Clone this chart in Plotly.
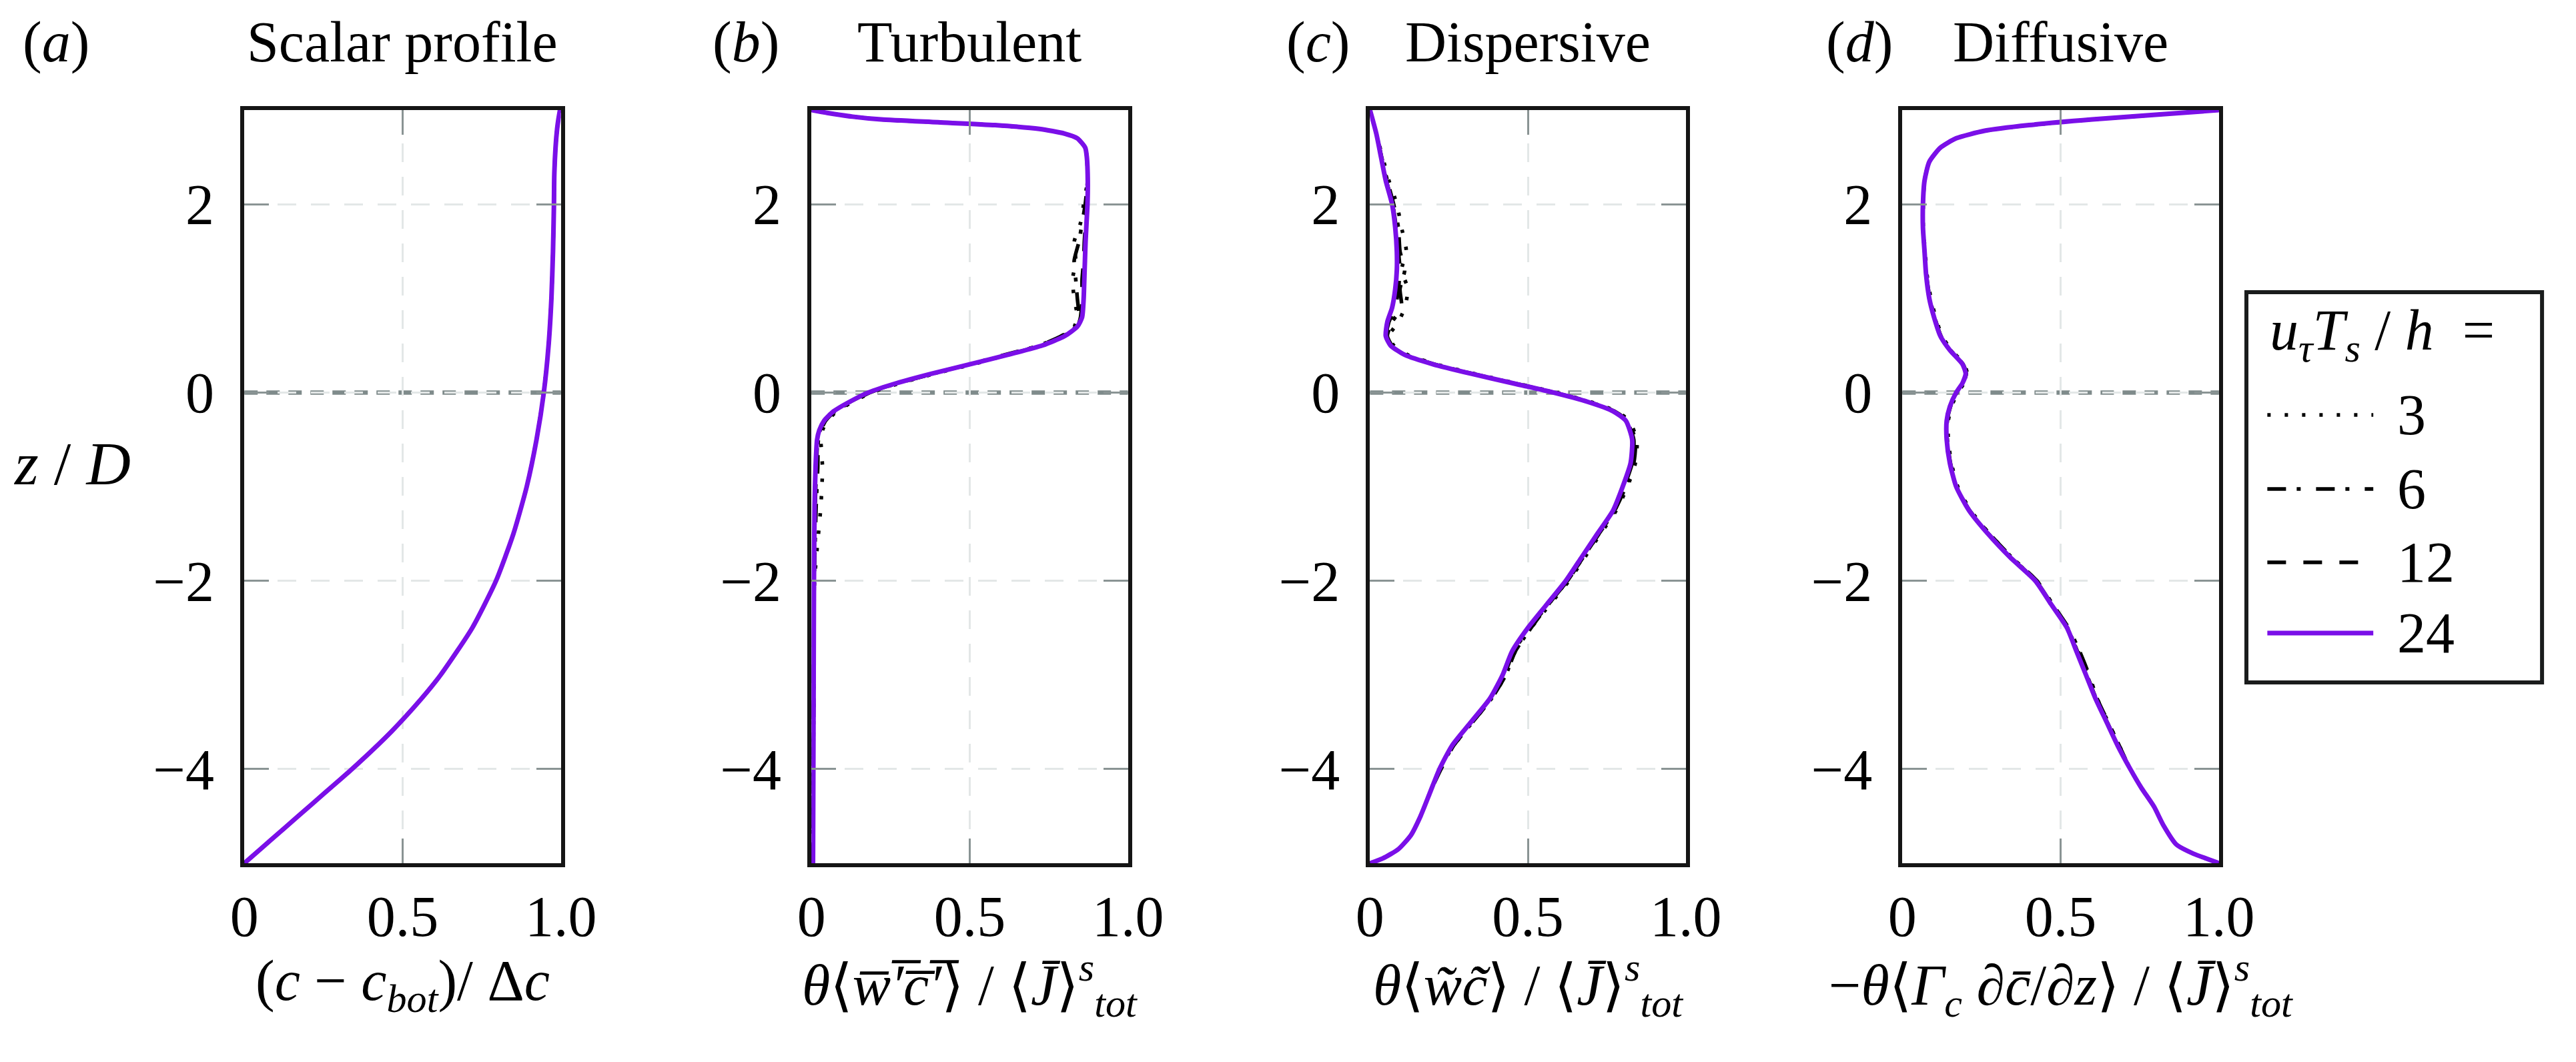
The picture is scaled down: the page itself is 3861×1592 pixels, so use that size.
import plotly.graph_objects as go

# ---- data ----
# (a) scalar profile
Z_A = [-5, -4.75, -4.5, -4.25, -4, -3.6, -3.25, -3, -2.5, -2, -1.5, -1, -0.5, 0, 0.5, 1, 1.5, 2, 2.3, 2.6, 2.8, 2.9, 3.0]
A_3 = [0.0, 0.085, 0.17, 0.255, 0.34, 0.465, 0.56, 0.62, 0.72, 0.795, 0.85, 0.892, 0.923, 0.946, 0.961, 0.970, 0.975, 0.978, 0.979, 0.983, 0.988, 0.992, 0.997]
A_6 = [0.0, 0.085, 0.17, 0.255, 0.34, 0.465, 0.56, 0.62, 0.72, 0.795, 0.85, 0.892, 0.923, 0.946, 0.961, 0.970, 0.975, 0.978, 0.979, 0.983, 0.988, 0.992, 0.997]
A_12 = [0.0, 0.085, 0.17, 0.255, 0.34, 0.465, 0.56, 0.62, 0.72, 0.795, 0.85, 0.892, 0.923, 0.946, 0.961, 0.970, 0.975, 0.978, 0.979, 0.983, 0.988, 0.992, 0.997]
A_24 = [0.0, 0.085, 0.17, 0.255, 0.34, 0.465, 0.56, 0.62, 0.72, 0.795, 0.85, 0.892, 0.923, 0.946, 0.961, 0.970, 0.975, 0.978, 0.979, 0.983, 0.988, 0.992, 0.997]

# (b) turbulent flux
Z_B = [-5, -4, -3, -2, -1.2, -0.8, -0.5, -0.4, -0.3, -0.2, -0.1, 0, 0.1, 0.2, 0.3, 0.4, 0.5, 0.6, 0.7, 0.8, 1.0, 1.2, 1.4, 1.6, 1.8, 2.0, 2.25, 2.5, 2.6, 2.7, 2.75, 2.8, 2.84, 2.87, 2.9, 2.93, 2.97, 3.0]
B_3 = [0.005, 0.006, 0.008, 0.01, 0.03, 0.035, 0.03, 0.035, 0.05, 0.08, 0.13, 0.19, 0.28, 0.39, 0.51, 0.62, 0.72, 0.79, 0.83, 0.84, 0.83, 0.825, 0.835, 0.83, 0.85, 0.86, 0.872, 0.87, 0.865, 0.84, 0.80, 0.72, 0.58, 0.40, 0.22, 0.13, 0.05, 0.0]
B_6 = [0.005, 0.006, 0.008, 0.009, 0.015, 0.02, 0.022, 0.03, 0.045, 0.075, 0.125, 0.185, 0.275, 0.385, 0.50, 0.61, 0.72, 0.79, 0.835, 0.845, 0.84, 0.835, 0.83, 0.845, 0.855, 0.865, 0.872, 0.87, 0.865, 0.84, 0.80, 0.72, 0.58, 0.40, 0.22, 0.13, 0.05, 0.0]
B_12 = [0.005, 0.006, 0.007, 0.008, 0.012, 0.016, 0.02, 0.028, 0.042, 0.072, 0.122, 0.182, 0.272, 0.382, 0.50, 0.62, 0.725, 0.795, 0.84, 0.85, 0.855, 0.855, 0.86, 0.862, 0.866, 0.87, 0.873, 0.87, 0.865, 0.84, 0.80, 0.72, 0.58, 0.40, 0.22, 0.13, 0.05, 0.0]
B_24 = [0.005, 0.006, 0.007, 0.008, 0.01, 0.013, 0.018, 0.025, 0.04, 0.07, 0.12, 0.18, 0.27, 0.38, 0.50, 0.62, 0.73, 0.80, 0.84, 0.855, 0.86, 0.862, 0.864, 0.866, 0.869, 0.872, 0.873, 0.87, 0.865, 0.84, 0.80, 0.72, 0.58, 0.40, 0.22, 0.13, 0.05, 0.0]

# (c) dispersive flux
Z_C = [-5, -4.95, -4.85, -4.7, -4.5, -4.25, -4, -3.75, -3.5, -3.25, -3, -2.75, -2.5, -2.25, -2, -1.75, -1.5, -1.25, -1, -0.75, -0.5, -0.3, -0.2, -0.1, 0, 0.1, 0.2, 0.3, 0.4, 0.5, 0.6, 0.75, 0.9, 1.1, 1.3, 1.5, 1.75, 2.0, 2.25, 2.5, 2.75, 3.0]
C_3 = [0.0, 0.04, 0.09, 0.13, 0.16, 0.19, 0.22, 0.265, 0.325, 0.385, 0.43, 0.46, 0.51, 0.57, 0.63, 0.68, 0.73, 0.78, 0.815, 0.84, 0.845, 0.82, 0.78, 0.70, 0.59, 0.46, 0.33, 0.21, 0.12, 0.075, 0.06, 0.09, 0.11, 0.12, 0.10, 0.115, 0.10, 0.085, 0.06, 0.04, 0.02, 0.0]
C_6 = [0.0, 0.04, 0.09, 0.13, 0.16, 0.19, 0.22, 0.26, 0.32, 0.38, 0.425, 0.455, 0.505, 0.565, 0.625, 0.675, 0.725, 0.775, 0.81, 0.835, 0.84, 0.815, 0.775, 0.695, 0.585, 0.455, 0.325, 0.205, 0.115, 0.07, 0.055, 0.07, 0.10, 0.095, 0.11, 0.095, 0.09, 0.075, 0.055, 0.037, 0.02, 0.0]
C_12 = [0.0, 0.04, 0.09, 0.13, 0.16, 0.19, 0.225, 0.265, 0.325, 0.385, 0.43, 0.46, 0.51, 0.565, 0.625, 0.675, 0.725, 0.775, 0.805, 0.83, 0.835, 0.812, 0.772, 0.692, 0.582, 0.452, 0.322, 0.202, 0.112, 0.067, 0.052, 0.06, 0.08, 0.09, 0.095, 0.09, 0.083, 0.072, 0.052, 0.036, 0.02, 0.0]
C_24 = [0.0, 0.04, 0.09, 0.13, 0.16, 0.19, 0.22, 0.26, 0.32, 0.38, 0.42, 0.45, 0.50, 0.56, 0.62, 0.67, 0.72, 0.77, 0.80, 0.825, 0.83, 0.81, 0.77, 0.69, 0.58, 0.45, 0.32, 0.20, 0.11, 0.065, 0.05, 0.055, 0.07, 0.08, 0.085, 0.085, 0.08, 0.07, 0.05, 0.035, 0.02, 0.0]

# (d) diffusive flux
Z_D = [-5, -4.95, -4.9, -4.8, -4.6, -4.4, -4.2, -4, -3.75, -3.5, -3.25, -3, -2.75, -2.5, -2.25, -2, -1.75, -1.5, -1.25, -1, -0.75, -0.5, -0.3, -0.15, 0, 0.1, 0.2, 0.3, 0.45, 0.6, 0.8, 1.0, 1.25, 1.5, 1.75, 2.0, 2.25, 2.45, 2.6, 2.7, 2.78, 2.84, 2.9, 2.95, 3.0]
D_3 = [1.0, 0.96, 0.92, 0.865, 0.825, 0.795, 0.755, 0.72, 0.685, 0.65, 0.615, 0.585, 0.555, 0.52, 0.47, 0.42, 0.345, 0.275, 0.215, 0.175, 0.155, 0.145, 0.145, 0.155, 0.175, 0.195, 0.205, 0.195, 0.155, 0.125, 0.105, 0.09, 0.078, 0.072, 0.066, 0.066, 0.07, 0.085, 0.12, 0.17, 0.26, 0.40, 0.60, 0.80, 1.0]
D_6 = [1.0, 0.96, 0.92, 0.865, 0.825, 0.795, 0.755, 0.72, 0.685, 0.65, 0.615, 0.59, 0.56, 0.525, 0.475, 0.425, 0.345, 0.275, 0.212, 0.172, 0.152, 0.142, 0.142, 0.152, 0.172, 0.192, 0.202, 0.192, 0.152, 0.122, 0.102, 0.087, 0.076, 0.07, 0.065, 0.065, 0.07, 0.085, 0.12, 0.17, 0.26, 0.40, 0.60, 0.80, 1.0]
D_12 = [1.0, 0.96, 0.92, 0.865, 0.825, 0.795, 0.755, 0.72, 0.682, 0.647, 0.612, 0.583, 0.553, 0.522, 0.472, 0.422, 0.342, 0.272, 0.21, 0.17, 0.15, 0.14, 0.14, 0.15, 0.17, 0.19, 0.20, 0.19, 0.15, 0.12, 0.10, 0.085, 0.075, 0.07, 0.065, 0.065, 0.07, 0.085, 0.12, 0.17, 0.26, 0.40, 0.60, 0.80, 1.0]
D_24 = [1.0, 0.96, 0.92, 0.865, 0.825, 0.795, 0.755, 0.72, 0.68, 0.645, 0.61, 0.58, 0.55, 0.52, 0.47, 0.42, 0.34, 0.27, 0.21, 0.17, 0.15, 0.14, 0.14, 0.15, 0.17, 0.19, 0.20, 0.19, 0.15, 0.12, 0.10, 0.085, 0.075, 0.07, 0.065, 0.065, 0.07, 0.085, 0.12, 0.17, 0.26, 0.40, 0.60, 0.80, 1.0]

RUNS = ["3", "6", "12", "24"]
PANEL_TAGS = ["(<i>a</i>)", "(<i>b</i>)", "(<i>c</i>)", "(<i>d</i>)"]
PANEL_TITLES = ["Scalar profile", "Turbulent", "Dispersive", "Diffusive"]
JTOT = "⟨<i>J\u0304</i>⟩<sup><i>s</i></sup><sub><i>tot</i></sub>"
X_TITLES = [
    "(<i>c</i> − <i>c</i><sub><i>bot</i></sub>)/ Δ<i>c</i>",
    "<i>θ</i>⟨<i>w\u0305\u2032\u0305c\u0305\u2032\u0305</i>⟩ / " + JTOT,
    "<i>θ</i>⟨<i>w\u0303\u0303c\u0303\u0303</i>⟩ / " + JTOT,
    "−<i>θ</i>⟨<i>Γ</i><sub><i>c</i></sub> ∂<i>c\u0304</i>/∂<i>z</i>⟩ / " + JTOT,
]
X_TICKS = [0, 0.5, 1.0]
X_TICKTEXT = ["0", "0.5", "1.0"]
Y_TICKS = [-4, -2, 0, 2]
Y_TICKTEXT = ["−4", "−2", "0", "2"]

panels = [
    (Z_A, [A_3, A_6, A_12, A_24]),
    (Z_B, [B_3, B_6, B_12, B_24]),
    (Z_C, [C_3, C_6, C_12, C_24]),
    (Z_D, [D_3, D_6, D_12, D_24]),
]

W, H = 3861, 1592
FONT = "Liberation Serif, Tinos, 'Times New Roman', Times, 'DejaVu Serif', serif"
FS = 86
PURPLE = "#7a0fe8"
styles = [
    dict(color="black", width=5.5, dash="5px,21px"),
    dict(color="black", width=5.5, dash="28px,16px,6px,23px"),
    dict(color="black", width=5.5, dash="28px,26px"),
    dict(color=PURPLE, width=7, dash="solid"),
]

# panel boxes in pixels (left, right), shared top/bottom
boxes = [(343, 827), (1210, 1694), (2064, 2547), (2878, 3362)]
top_px, bot_px = 157, 1286
tag_x = [55, 1110, 1985, 2812]

def px(x):
    return x / W

def py(y):
    return 1 - y / H

def font(size):
    return dict(family=FONT, size=size, color="black")

fig = go.Figure()
annotations = []
shapes = []

for i, (z, series) in enumerate(panels):
    n = "" if i == 0 else str(i + 1)
    for run, xs, st in zip(RUNS, series, styles):
        fig.add_trace(go.Scatter(
            x=xs, y=z, mode="lines", line=dict(shape="spline", smoothing=0.6, **st),
            name=run, showlegend=False, xaxis="x" + n, yaxis="y" + n,
            hoverinfo="skip",
        ))
    l, r = boxes[i]
    axis_common = dict(
        showline=True, linewidth=6, linecolor="#151515", mirror="ticks",
        ticks="inside", ticklen=37, tickwidth=3, tickcolor="#8a9494",
        showgrid=True, gridcolor="#e3e7e7", gridwidth=3, griddash="28px,22px",
        zeroline=False, tickfont=font(FS),
    )
    fig.layout["xaxis" + n] = dict(
        domain=[px(l), px(r)], range=[0, 1], anchor="y" + n,
        tickvals=X_TICKS, ticktext=X_TICKTEXT, ticklabelstandoff=0, **axis_common)
    fig.layout["yaxis" + n] = dict(
        domain=[py(bot_px), py(top_px)], range=[-5, 3], anchor="x" + n,
        tickvals=Y_TICKS, ticktext=Y_TICKTEXT, ticklabelstandoff=22, **axis_common)
    shapes.append(dict(type="line", xref="x" + n + " domain", yref="y" + n,
                       x0=0, x1=1, y0=0, y1=0, layer="below",
                       line=dict(color="#7f8b8b", width=6.5, dash="20px,13px")))
    cx = (l + r) / 2
    annotations.append(dict(text=X_TITLES[i], x=px(cx), y=py(1468), xref="paper", yref="paper",
                            showarrow=False, xanchor="center", yanchor="middle", font=font(FS)))
    annotations.append(dict(text=PANEL_TITLES[i], x=px(cx), y=py(55), xref="paper", yref="paper",
                            showarrow=False, xanchor="center", yanchor="middle", font=font(FS)))

for t, x in zip(PANEL_TAGS, tag_x):
    annotations.append(dict(text=t, x=px(x), y=py(55), xref="paper", yref="paper",
                            showarrow=False, xanchor="center", yanchor="middle", font=font(FS)))

annotations.append(dict(text="<i>z</i> / <i>D</i>", x=px(80), y=py(687), xref="paper", yref="paper",
                        showarrow=False, xanchor="center", yanchor="middle", font=font(92)))

# legend box drawn by hand so the line samples can be long
shapes.append(dict(type="rect", xref="paper", yref="paper", x0=px(3404), x1=px(3856),
                   y0=py(1015), y1=py(430), line=dict(color="#1a1c1c", width=6),
                   fillcolor="white", layer="above"))
annotations.append(dict(text="<i>u</i><sub><i>τ</i></sub><i>T</i><sub><i>s</i></sub> / <i>h</i>  =",
                        x=px(3438), y=py(493), xref="paper", yref="paper", showarrow=False,
                        xanchor="left", yanchor="middle", font=font(FS)))
row_y = [614, 725, 835, 941]
for run, st, yy in zip(RUNS, styles, row_y):
    shapes.append(dict(type="line", xref="paper", yref="paper", x0=px(3436), x1=px(3598),
                       y0=py(yy), y1=py(yy), layer="above", line=st))
    annotations.append(dict(text=run, x=px(3632), y=py(yy), xref="paper", yref="paper",
                            showarrow=False, xanchor="left", yanchor="middle", font=font(FS)))

fig.update_layout(
    width=W, height=H, margin=dict(l=0, r=0, t=0, b=0),
    paper_bgcolor="white", plot_bgcolor="white",
    showlegend=False, annotations=annotations, shapes=shapes,
    font=font(FS),
)

fig.write_html("out.html")
